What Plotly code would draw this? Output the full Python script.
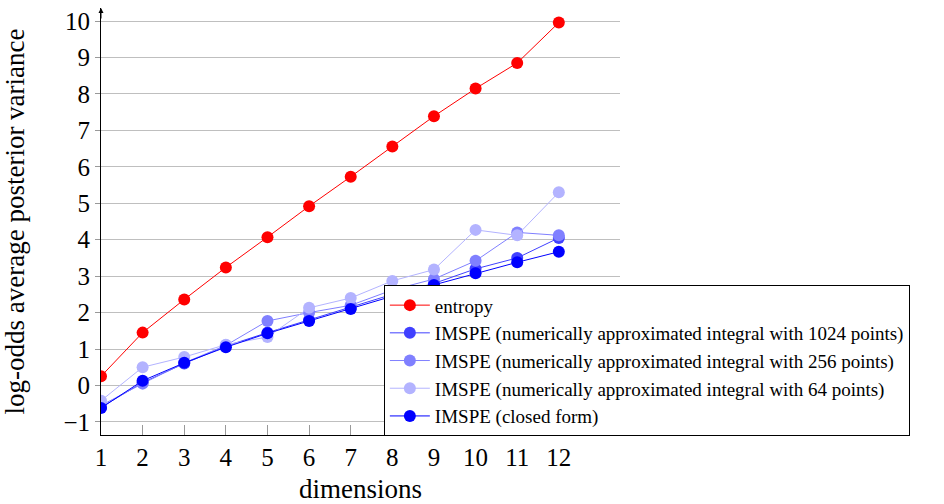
import plotly.graph_objects as go

dims = [1, 2, 3, 4, 5, 6, 7, 8, 9, 10, 11, 12]
entropy = [0.25, 1.45, 2.36, 3.24, 4.07, 4.92, 5.73, 6.56, 7.39, 8.15, 8.85, 9.96]
imspe_1024 = [-0.60, 0.08, 0.60, 1.08, 1.45, 1.80, 2.13, 2.50, 2.80, 3.20, 3.50, 4.05]
imspe_256 = [-0.55, 0.05, 0.62, 1.10, 1.77, 2.00, 2.20, 2.62, 2.92, 3.42, 4.20, 4.12]
imspe_64 = [-0.42, 0.50, 0.78, 1.12, 1.33, 2.13, 2.40, 2.87, 3.18, 4.27, 4.12, 5.30]
imspe_closed = [-0.62, 0.13, 0.62, 1.05, 1.43, 1.77, 2.10, 2.45, 2.76, 3.08, 3.38, 3.67]

series = [
    ("entropy", entropy, "#ff0000"),
    ("IMSPE (numerically approximated integral with 1024 points)", imspe_1024, "#4040ff"),
    ("IMSPE (numerically approximated integral with 256 points)", imspe_256, "#8080ff"),
    ("IMSPE (numerically approximated integral with 64 points)", imspe_64, "#b3b3ff"),
    ("IMSPE (closed form)", imspe_closed, "#0000ff"),
]

font_family = "Liberation Serif"

fig = go.Figure()
for name, vals, col in series:
    fig.add_trace(go.Scatter(
        x=dims, y=vals, name=name, mode="lines+markers",
        line=dict(color=col, width=1),
        marker=dict(color=col, size=12),
    ))

fig.update_layout(
    width=944, height=504,
    margin=dict(l=101, r=324, t=8, b=69, autoexpand=False),
    plot_bgcolor="white", paper_bgcolor="white",
    font=dict(family=font_family, size=24, color="black"),
    showlegend=True,
    legend=dict(
        x=0.545, y=-0.003, xanchor="left", yanchor="bottom",
        bgcolor="white", bordercolor="black", borderwidth=1,
        font=dict(family=font_family, size=19, color="black"),
        tracegroupgap=0, itemwidth=40,
    ),
    xaxis=dict(
        range=[1, 13.47], tickmode="array", tickvals=dims,
        ticktext=[str(d) for d in dims],
        showgrid=False, zeroline=False,
        showline=True, linecolor="black", linewidth=1,
        ticks="inside", ticklen=10, tickcolor="#999999", tickwidth=1,
        title=dict(text="dimensions", font=dict(family=font_family, size=27), standoff=14),
        tickfont=dict(family=font_family, size=25),
    ),
    yaxis=dict(
        range=[-1.36, 10.36], tickmode="array",
        tickvals=list(range(-1, 11)),
        ticktext=["\u22121"] + [str(v) for v in range(0, 11)],
        showgrid=True, gridcolor="#bfbfbf", gridwidth=1, zeroline=False,
        showline=True, linecolor="black", linewidth=1,
        ticks="outside", ticklen=5, tickcolor="#999999",
        title=dict(text="log-odds average posterior variance", font=dict(family=font_family, size=27), standoff=30),
        tickfont=dict(family=font_family, size=25),
    ),
)

fig.add_annotation(
    x=1, y=1.0, xref="x", yref="paper", ax=0, ay=12,
    showarrow=True, arrowhead=2, arrowsize=1, arrowwidth=1, arrowcolor="black", text="",
)

fig.write_html(
    "out.html",
    config={"displayModeBar": False},
    post_script="document.body.style.margin='0';document.body.style.padding='0';",
)
